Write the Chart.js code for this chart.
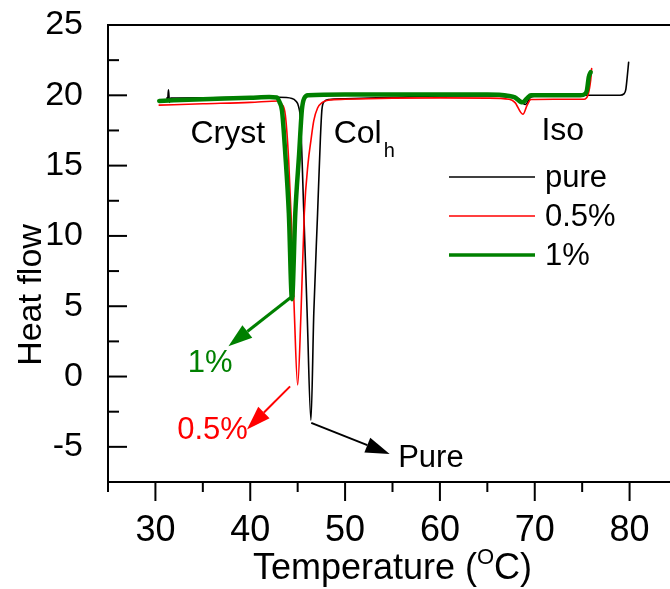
<!DOCTYPE html>
<html>
<head>
<meta charset="utf-8">
<script src="https://cdn.jsdelivr.net/npm/chart.js@4.4.1/dist/chart.umd.min.js"></script>
<style>
  html, body { margin: 0; padding: 0; background: #fff; overflow: hidden; }
  #wrap { width: 700px; height: 589px; }
</style>
</head>
<body>
<div id="wrap"><canvas id="dsc" width="700" height="589"></canvas></div>
<script>
// DSC heating scans, temperature (°C) against heat flow
var pureTemp = [31.2, 31.3, 31.38, 31.48, 31.6, 35, 40, 43, 44.4, 44.8, 45.1, 45.3, 45.65, 46.0, 46.4,
                46.7, 47.1, 47.4, 47.56, 47.8, 48.3, 50, 55, 60, 65, 67.5, 68.3, 69.0, 69.55, 70.2,
                72, 75.9, 79.0, 79.4, 79.6, 79.75, 79.9];
var pureFlow = [19.8, 19.8, 20.4, 19.5, 19.8, 19.82, 19.86, 19.86, 19.78, 19.6, 19.2, 18.2, 11.6, 4.5, -3.1,
                4.5, 11.6, 17.0, 19.0, 19.55, 19.7, 19.75, 19.85, 19.95, 19.95, 19.85, 19.75, 19.35, 19.85, 19.95,
                19.98, 20.0, 20.0, 20.1, 20.4, 21.3, 22.35];

var halfTemp = [30.4, 35, 40, 43.0, 43.3, 43.7, 44.05, 44.3, 44.65, 45.0, 45.35, 45.7, 46.1, 46.4, 46.7,
                47.1, 47.6, 48.2, 50, 55, 60, 65, 67.3, 67.9, 68.75, 69.2, 69.6, 72, 75.2, 75.6,
                75.9, 76.0];
var halfFlow = [19.3, 19.4, 19.5, 19.6, 19.4, 18.6, 15.4, 11.6, 4.5, -0.6, 4.5, 11.6, 15.2, 16.8, 18.2,
                19.1, 19.5, 19.65, 19.72, 19.8, 19.82, 19.8, 19.72, 19.5, 18.65, 19.3, 19.7, 19.72, 19.72, 20.0,
                21.1, 21.9];

var oneTemp = [30.4, 35, 40, 42.0, 42.8, 43.1, 43.35, 43.7, 44.07, 44.4, 44.75, 45.15, 45.45, 45.7, 46.1,
               50, 55, 60, 65, 67.3, 67.9, 68.7, 69.2, 69.6, 72, 74.8, 75.3, 75.5, 75.7, 75.9];
var oneFlow = [19.6, 19.72, 19.82, 19.88, 19.85, 19.5, 18.9, 15.8, 11.6, 5.5, 11.6, 15.8, 19.0, 19.8, 20.0,
               20.05, 20.05, 20.05, 20.05, 19.95, 19.85, 19.5, 19.8, 20.0, 20.0, 20.0, 20.1, 20.35, 21.3, 21.65];

var seriesNames = ['pure', '0.5%', '1%'];
var seriesColors = ['#000000', '#ff0000', '#008000'];
var xTicks = [30, 40, 50, 60, 70, 80];
var yTicks = [-5, 0, 5, 10, 15, 20, 25];

var FONT = "'Liberation Sans', Arial, sans-serif";

function toPoints(xs, ys) {
    return xs.map(function (x, i) { return { x: x, y: ys[i] }; });
}

// arrows from each melting peak to its label, in data units
var peakArrows = [
    { from: [46.43, -3.3], to: [54.7, -5.5], color: '#000000', width: 2, text: 'Pure', at: [55.6, -6.4] },
    { from: [44.2, -0.7], to: [39.65, -3.76], color: '#ff0000', width: 2, text: '0.5%', at: [32.3, -4.47] },
    { from: [44.6, 5.8], to: [37.7, 2.15], color: '#008000', width: 3, text: '1%', at: [33.4, 0.35] }
];

function drawArrow(ctx, x0, y0, x1, y1, color, width) {
    var ang = Math.atan2(y1 - y0, x1 - x0);
    var len = 24, half = 8;
    var bx = x1 - len * Math.cos(ang), by = y1 - len * Math.sin(ang);
    ctx.strokeStyle = color;
    ctx.lineWidth = width;
    ctx.beginPath();
    ctx.moveTo(x0, y0);
    ctx.lineTo(bx, by);
    ctx.stroke();
    ctx.fillStyle = color;
    ctx.beginPath();
    ctx.moveTo(x1, y1);
    ctx.lineTo(bx + half * Math.sin(ang), by - half * Math.cos(ang));
    ctx.lineTo(bx - half * Math.sin(ang), by + half * Math.cos(ang));
    ctx.closePath();
    ctx.fill();
}

// frame, inward/outward tick marks, legend, phase labels and axis titles
var decorPlugin = {
    id: 'decor',
    afterDraw: function (chart) {
        var ctx = chart.ctx, a = chart.chartArea;
        var xs = chart.scales.x, ys = chart.scales.y;
        ctx.save();

        ctx.strokeStyle = '#000';
        ctx.lineWidth = 2;
        ctx.beginPath();
        ctx.moveTo(a.right + 2, a.top); ctx.lineTo(a.left, a.top);
        ctx.lineTo(a.left, a.bottom); ctx.lineTo(a.right + 2, a.bottom);
        ctx.stroke();

        // x ticks hang below the axis
        var v, p;
        for (v = 25; v <= 85; v += 5) {
            p = xs.getPixelForValue(v);
            var major = xTicks.indexOf(v) >= 0 || v === 85;
            ctx.beginPath();
            ctx.moveTo(p, a.bottom);
            ctx.lineTo(p, a.bottom + (major ? 19 : 10));
            ctx.stroke();
        }
        // y ticks point into the plot
        for (v = -7.5; v <= 25; v += 2.5) {
            p = ys.getPixelForValue(v);
            var majorY = yTicks.indexOf(v) >= 0;
            ctx.beginPath();
            ctx.moveTo(a.left, p);
            ctx.lineTo(a.left + (majorY ? 19 : 11), p);
            ctx.stroke();
        }

        // legend
        var legendWidths = [1.5, 1.5, 3.5];
        var legendY = [177, 216, 255];
        ctx.font = '31px ' + FONT;
        ctx.textBaseline = 'middle';
        ctx.textAlign = 'left';
        seriesNames.forEach(function (name, i) {
            ctx.strokeStyle = seriesColors[i];
            ctx.lineWidth = legendWidths[i];
            ctx.beginPath();
            ctx.moveTo(449, legendY[i]);
            ctx.lineTo(535, legendY[i]);
            ctx.stroke();
            ctx.fillStyle = '#000';
            ctx.fillText(name, 545, legendY[i] + 1);
        });

        // phase labels
        ctx.textBaseline = 'alphabetic';
        ctx.fillStyle = '#000';
        ctx.font = '32px ' + FONT;
        ctx.fillText('Cryst', xs.getPixelForValue(33.7), ys.getPixelForValue(16.6));
        var colX = xs.getPixelForValue(48.8);
        ctx.fillText('Col', colX, ys.getPixelForValue(16.6));
        var colW = ctx.measureText('Col').width;
        ctx.font = '20px ' + FONT;
        ctx.fillText('h', colX + colW + 2, ys.getPixelForValue(15.6));
        ctx.font = '32px ' + FONT;
        ctx.fillText('Iso', xs.getPixelForValue(70.7), ys.getPixelForValue(16.85));

        // peak arrows
        ctx.font = '31px ' + FONT;
        peakArrows.forEach(function (ar) {
            drawArrow(ctx, xs.getPixelForValue(ar.from[0]), ys.getPixelForValue(ar.from[1]),
                      xs.getPixelForValue(ar.to[0]), ys.getPixelForValue(ar.to[1]), ar.color, ar.width);
            ctx.fillStyle = ar.color;
            ctx.fillText(ar.text, xs.getPixelForValue(ar.at[0]), ys.getPixelForValue(ar.at[1]));
        });

        // axis titles
        ctx.fillStyle = '#000';
        ctx.font = '34px ' + FONT;
        ctx.save();
        ctx.translate(41, 295);
        ctx.rotate(-Math.PI / 2);
        ctx.textAlign = 'center';
        ctx.fillText('Heat flow', 0, 0);
        ctx.restore();

        var partA = 'Temperature (', sup = 'O', partB = 'C)';
        ctx.font = '36px ' + FONT;
        var wA = ctx.measureText(partA).width, wB = ctx.measureText(partB).width;
        ctx.font = '22px ' + FONT;
        var wS = ctx.measureText(sup).width;
        var cx = (a.left + a.right) / 2;
        var x0 = cx - (wA + wS + wB) / 2;
        var base = 579;
        ctx.textAlign = 'left';
        ctx.font = '36px ' + FONT;
        ctx.fillText(partA, x0, base);
        ctx.font = '22px ' + FONT;
        ctx.fillText(sup, x0 + wA, base - 15);
        ctx.font = '36px ' + FONT;
        ctx.fillText(partB, x0 + wA + wS, base);

        ctx.restore();
    }
};

Chart.defaults.font.family = FONT;
Chart.defaults.color = '#000';

new Chart(document.getElementById('dsc').getContext('2d'), {
    type: 'scatter',
    data: {
        datasets: [
            { label: seriesNames[2], data: toPoints(oneTemp, oneFlow), borderColor: seriesColors[2],
              borderWidth: 4.5, order: 0 },
            { label: seriesNames[1], data: toPoints(halfTemp, halfFlow), borderColor: seriesColors[1],
              borderWidth: 1.6, order: 1 },
            { label: seriesNames[0], data: toPoints(pureTemp, pureFlow), borderColor: seriesColors[0],
              borderWidth: 1.6, order: 2 }
        ]
    },
    options: {
        responsive: false,
        animation: false,
        devicePixelRatio: 1,
        showLine: true,
        elements: {
            point: { radius: 0, hoverRadius: 0 },
            line: { cubicInterpolationMode: 'monotone', fill: false, borderCapStyle: 'round', borderJoinStyle: 'round' }
        },
        layout: { padding: { top: 25, right: 23, left: 0, bottom: 0 } },
        plugins: { legend: { display: false }, tooltip: { enabled: false } },
        scales: {
            x: {
                type: 'linear', min: 25, max: 85,
                grid: { display: false, drawTicks: false },
                border: { display: false },
                ticks: { font: { size: 36 }, padding: 27, callback: function (v) { return String(v); } },
                afterBuildTicks: function (scale) {
                    scale.ticks = xTicks.map(function (v) { return { value: v }; });
                },
                afterFit: function (scale) {
                    scale.height = 107;
                    scale.paddingLeft = 0;
                    scale.paddingRight = 0;
                }
            },
            y: {
                type: 'linear', min: -7.5, max: 25,
                grid: { display: false, drawTicks: false },
                border: { display: false },
                ticks: { font: { size: 34 }, padding: 25, callback: function (v) { return String(v); } },
                afterBuildTicks: function (scale) {
                    scale.ticks = yTicks.map(function (v) { return { value: v }; });
                },
                afterFit: function (scale) {
                    scale.width = 108;
                    scale.paddingTop = 0;
                    scale.paddingBottom = 0;
                }
            }
        }
    },
    plugins: [decorPlugin]
});
</script>
</body>
</html>
